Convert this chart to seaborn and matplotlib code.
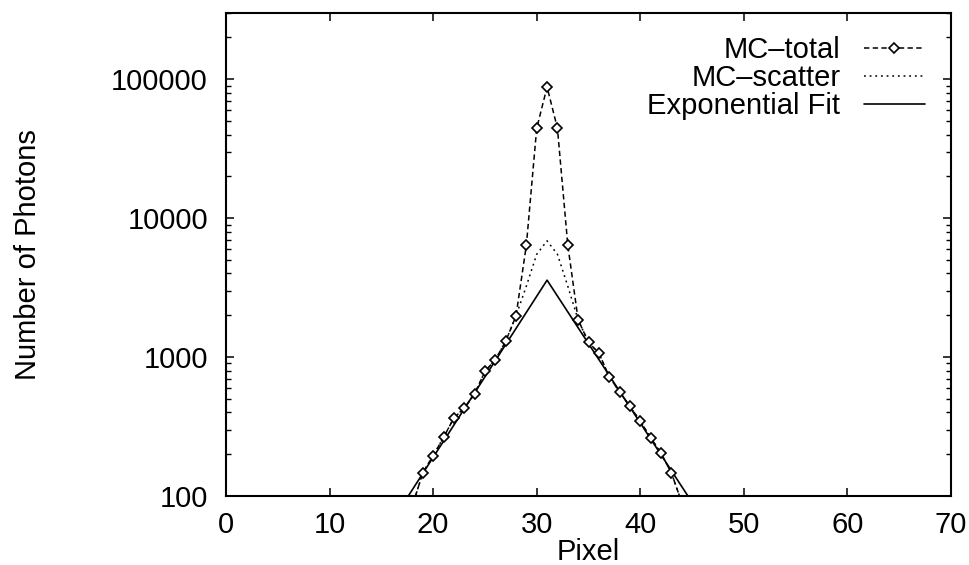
import matplotlib
matplotlib.use("Agg")
import matplotlib.pyplot as plt
import matplotlib.ticker as mticker
import seaborn as sns
import pandas as pd
import numpy as np

# ---- data ----
pixels = [17, 18, 19, 20, 21, 22, 23, 24, 25, 26, 27, 28, 29, 30, 31,
          32, 33, 34, 35, 36, 37, 38, 39, 40, 41, 42, 43, 44, 45]
mc_total = [50, 85, 147, 195, 264, 364, 430, 542, 789, 957, 1297, 1980, 6390, 44400, 88000,
            44400, 6400, 1855, 1276, 1069, 722, 563, 442, 345, 263, 203, 147, 90, 60]
mc_scatter = [50, 85, 147, 195, 264, 364, 430, 542, 789, 957, 1297, 1980, 3240, 5500, 6870,
              5500, 3240, 1855, 1276, 1069, 722, 563, 442, 345, 263, 203, 147, 90, 60]
fit_pixels = [17.6, 31, 44.6]
fit_counts = [100, 3580, 100]

x_ticks = [0, 10, 20, 30, 40, 50, 60, 70]
y_ticks = [100, 1000, 10000, 100000]
labels = ["MC\u2013total", "MC\u2013scatter", "Exponential Fit"]

sns.set_theme(style="ticks")
plt.rcParams["font.family"] = ["Liberation Sans", "DejaVu Sans"]
plt.rcParams["text.color"] = "black"
plt.rcParams["axes.labelcolor"] = "black"
plt.rcParams["xtick.color"] = "black"
plt.rcParams["ytick.color"] = "black"

fig = plt.figure(figsize=(9.69, 5.65), dpi=100)
ax = fig.add_axes([226 / 969, 1 - 496 / 565, (951 - 226) / 969, (496 - 13) / 565])

df_total = pd.DataFrame({"Pixel": pixels, "Photons": mc_total})
df_scatter = pd.DataFrame({"Pixel": pixels, "Photons": mc_scatter})
df_fit = pd.DataFrame({"Pixel": fit_pixels, "Photons": fit_counts})

sns.lineplot(data=df_scatter, x="Pixel", y="Photons", ax=ax, color="black",
             linewidth=1.1, label=labels[1], zorder=2)
ax.lines[-1].set_dashes([1.2, 2.5])
sns.lineplot(data=df_fit, x="Pixel", y="Photons", ax=ax, color="black",
             linewidth=1.2, label=labels[2], zorder=2)
sns.lineplot(data=df_total, x="Pixel", y="Photons", ax=ax, color="black",
             linewidth=1.1, marker="D", markersize=5.5, markerfacecolor="white",
             markeredgecolor="black", markeredgewidth=1.2, label=labels[0], zorder=3)
ax.lines[-1].set_dashes([3.5, 2.2])

ax.set_yscale("log")
ax.set_xlim(0, 70)
ax.set_ylim(100, 3e5)
ax.set_xticks(x_ticks)
ax.set_xticklabels([str(v) for v in x_ticks])
ax.yaxis.set_major_locator(mticker.FixedLocator(y_ticks))
ax.yaxis.set_major_formatter(mticker.FixedFormatter([str(v) for v in y_ticks]))
ax.yaxis.set_minor_locator(mticker.LogLocator(base=10, subs=np.arange(2, 10)))
ax.yaxis.set_minor_formatter(mticker.NullFormatter())

for s in ax.spines.values():
    s.set_linewidth(1.5)
    s.set_color("black")
ax.tick_params(which="major", direction="in", length=6, width=1.1,
               top=True, right=True, labelsize=21, colors="black")
ax.tick_params(axis="x", which="major", pad=11)
ax.tick_params(axis="y", which="major", pad=13)
ax.tick_params(which="minor", direction="in", length=3.5, width=1.0,
               left=True, right=True, top=False, bottom=False)

ax.set_xlabel("Pixel", fontsize=21, labelpad=-1, color="black")
ax.set_ylabel("Number of Photons", fontsize=21, color="black")
ax.yaxis.set_label_coords(-0.254, 0.5)

handles, lbls = ax.get_legend_handles_labels()
order = [lbls.index(l) for l in labels]
leg = ax.legend([handles[i] for i in order], [lbls[i] for i in order],
                loc="upper right", bbox_to_anchor=(925 / 969, 1 - 36 / 565),
                bbox_transform=fig.transFigure, frameon=False, markerfirst=False,
                fontsize=21, handlelength=2.1, handletextpad=0.8,
                labelspacing=0.0, borderpad=0, borderaxespad=0)
for t in leg.get_texts():
    t.set_color("black")

fig.savefig("out.png", dpi=100)
